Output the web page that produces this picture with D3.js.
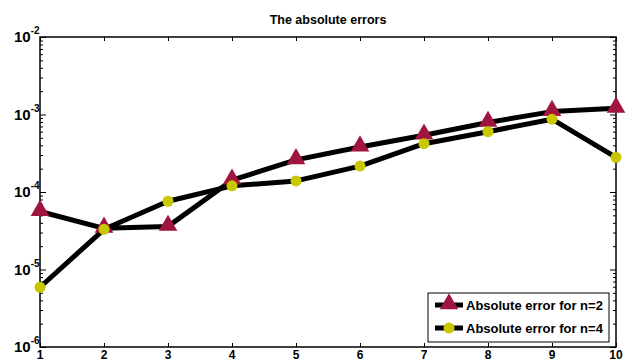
<!DOCTYPE html>
<html>
<head>
<meta charset="utf-8">
<script src="https://cdn.jsdelivr.net/npm/d3@7"></script>
<style>
  body { margin: 0; background: #fff; }
  text { font-family: "Liberation Sans", Arial, sans-serif; font-weight: bold; }
</style>
</head>
<body>
<svg id="chart-area"></svg>
<script>
// data
const nValues = [1, 2, 3, 4, 5, 6, 7, 8, 9, 10]
const errN2 = [5.6e-5, 3.4e-5, 3.6e-5, 1.42e-4, 2.6e-4, 3.8e-4, 5.4e-4, 7.9e-4, 1.09e-3, 1.2e-3]
const errN4 = [5.9e-6, 3.3e-5, 7.6e-5, 1.2e-4, 1.39e-4, 2.16e-4, 4.2e-4, 6.0e-4, 8.7e-4, 2.8e-4]
const yTickExp = [-6, -5, -4, -3, -2]
const legendLabels = ["Absolute error for n=2", "Absolute error for n=4"]

const width = 632
const height = 363
const margin = {top: 37, right: 16, bottom: 16, left: 40}

const svg = d3.select("#chart-area")
    .attr("width", width)
    .attr("height", height)

const x = d3.scaleLinear()
    .domain([1, 10])
    .range([margin.left, width - margin.right])

const y = d3.scaleLog()
    .domain([1e-6, 1e-2])
    .range([height - margin.bottom, margin.top])

const triColor = "#a0153e"
const dotColor = "#c8c800"

// minor ticks on the log axis
const minor = []
for (let e = -6; e < -2; e++) {
    for (let m = 2; m <= 9; m++) minor.push(m * Math.pow(10, e))
}

// left axis
svg.append("g")
    .attr("transform", `translate(${margin.left},0)`)
    .call(d3.axisRight(y).tickValues(minor).tickSize(3).tickFormat(""))
svg.append("g")
    .attr("transform", `translate(${margin.left},0)`)
    .call(d3.axisRight(y).tickValues(yTickExp.map(e => Math.pow(10, e))).tickSize(6).tickFormat(""))
// right axis
svg.append("g")
    .attr("transform", `translate(${width - margin.right},0)`)
    .call(d3.axisLeft(y).tickValues(minor).tickSize(3).tickFormat(""))
svg.append("g")
    .attr("transform", `translate(${width - margin.right},0)`)
    .call(d3.axisLeft(y).tickValues(yTickExp.map(e => Math.pow(10, e))).tickSize(6).tickFormat(""))
// bottom + top
svg.append("g")
    .attr("transform", `translate(0,${height - margin.bottom})`)
    .call(d3.axisTop(x).tickValues(nValues).tickSize(4).tickFormat(""))
svg.append("g")
    .attr("transform", `translate(0,${margin.top})`)
    .call(d3.axisBottom(x).tickValues(nValues).tickSize(4).tickFormat(""))

svg.selectAll(".domain").remove()
svg.selectAll(".tick line").attr("stroke", "#000").attr("stroke-width", 1)

// frame
svg.append("rect")
    .attr("x", margin.left)
    .attr("y", margin.top)
    .attr("width", width - margin.left - margin.right)
    .attr("height", height - margin.top - margin.bottom)
    .attr("fill", "none")
    .attr("stroke", "#000")
    .attr("stroke-width", 1.5)

// tick labels
svg.selectAll(".xlab")
    .data(nValues)
    .enter().append("text")
    .attr("class", "xlab")
    .attr("x", d => x(d))
    .attr("y", height - 4)
    .attr("text-anchor", "middle")
    .attr("font-size", 12)
    .text(d => d)

const ylab = svg.selectAll(".ylab")
    .data(yTickExp)
    .enter().append("text")
    .attr("class", "ylab")
    .attr("x", 14)
    .attr("y", d => y(Math.pow(10, d)) + 5)
    .attr("font-size", 15)
ylab.append("tspan").text("10")
ylab.append("tspan")
    .attr("dy", -8)
    .attr("font-size", 10)
    .text(d => d)

// title
svg.append("text")
    .attr("x", (margin.left + width - margin.right) / 2)
    .attr("y", 24)
    .attr("text-anchor", "middle")
    .attr("font-size", 12.5)
    .text("The absolute errors")

// lines
const line = d3.line()
    .x((d, i) => x(nValues[i]))
    .y(d => y(d))

const plot = svg.append("g")

plot.append("path")
    .datum(errN2)
    .attr("d", line)
    .attr("fill", "none")
    .attr("stroke", "#000")
    .attr("stroke-width", 5)
    .attr("stroke-linejoin", "round")

plot.append("path")
    .datum(errN4)
    .attr("d", line)
    .attr("fill", "none")
    .attr("stroke", "#000")
    .attr("stroke-width", 5)
    .attr("stroke-linejoin", "round")

const tri = d3.symbol().type(d3.symbolTriangle).size(150)

plot.selectAll(".tri")
    .data(errN2)
    .enter().append("path")
    .attr("class", "tri")
    .attr("d", tri)
    .attr("transform", (d, i) => `translate(${x(nValues[i])},${y(d) - 1})`)
    .attr("fill", triColor)

plot.selectAll(".dot")
    .data(errN4)
    .enter().append("circle")
    .attr("class", "dot")
    .attr("cx", (d, i) => x(nValues[i]))
    .attr("cy", d => y(d))
    .attr("r", 5.5)
    .attr("fill", dotColor)

// legend
const legend = svg.append("g").attr("transform", "translate(428,293)")
legend.append("rect")
    .attr("width", 181)
    .attr("height", 49)
    .attr("fill", "#fff")
    .attr("stroke", "#000")
    .attr("stroke-width", 1)

legendLabels.forEach((label, i) => {
    const ly = 12 + i * 23
    legend.append("line")
        .attr("x1", 7).attr("x2", 35)
        .attr("y1", ly).attr("y2", ly)
        .attr("stroke", "#000")
        .attr("stroke-width", 5)
    if (i === 0) {
        legend.append("path")
            .attr("d", tri)
            .attr("transform", `translate(21,${ly - 1})`)
            .attr("fill", triColor)
    } else {
        legend.append("circle")
            .attr("cx", 21).attr("cy", ly)
            .attr("r", 5.5)
            .attr("fill", dotColor)
    }
    legend.append("text")
        .attr("x", 38)
        .attr("y", ly + 5)
        .attr("font-size", 13)
        .text(label)
})
</script>
</body>
</html>
